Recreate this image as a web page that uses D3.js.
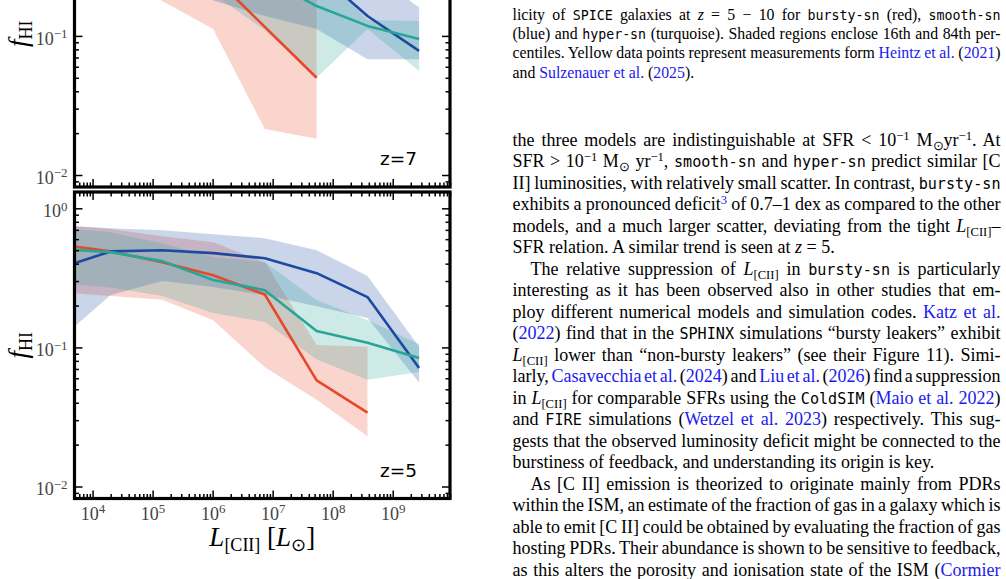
<!DOCTYPE html>
<html>
<head>
<meta charset="utf-8">
<script src="https://cdn.jsdelivr.net/npm/d3@7"></script>
<style>
body { margin: 0; background: #fff; width: 1006px; height: 579px; overflow: hidden; position: relative; }
svg { position: absolute; left: 0; top: 0; }
.ln { position: absolute; white-space: nowrap; font-family: "Liberation Serif", "Times New Roman", serif; color: #000; line-height: 20px; }
.tt { font-family: "DejaVu Sans Mono", monospace; font-size: 0.84em; }
.lk { color: #1a1aee; }
.ln sup, .ln sub { font-size: 0.7em; line-height: 0; position: relative; vertical-align: baseline; }
.ln sup { top: -0.5em; }
.ln sub { top: 0.3em; }
</style>
</head>
<body>
<script>
// luminosity bin centres (L_sun)
var lumBins = [2.75e3, 2.0e4, 1.45e5, 1.02e6, 7.4e6, 5.4e7, 3.8e8, 2.75e9];

// z=7 panel
var z7BurstyMed = [0.62, 0.58, 0.45, 0.27, 0.116, 0.050];
var z7BurstyLo  = [0.32, 0.30, 0.178, 0.112, 0.0214, 0.0182];
var z7BurstyHi  = [0.90, 0.85, 0.75, 0.50, 0.30, 0.20];
var z7SmoothMed = [0.50, 0.55, 0.55, 0.50, 0.42, 0.29, 0.139, 0.078];
var z7SmoothLo  = [0.25, 0.30, 0.30, 0.18, 0.139, 0.112, 0.068, 0.068];
var z7SmoothHi  = [0.80, 0.85, 0.85, 0.80, 0.70, 0.55, 0.30, 0.16];
var z7HyperMed  = [0.55, 0.55, 0.50, 0.40, 0.26, 0.164, 0.118, 0.095];
var z7HyperLo   = [0.30, 0.30, 0.28, 0.20, 0.11, 0.050, 0.112, 0.056];
var z7HyperHi   = [0.80, 0.80, 0.75, 0.65, 0.45, 0.30, 0.13, 0.128];

// z=5 panel
var z5BurstyMed = [0.55, 0.49, 0.41, 0.33, 0.24, 0.058, 0.034];
var z5BurstyLo  = [0.25, 0.234, 0.22, 0.157, 0.072, 0.042, 0.023];
var z5BurstyHi  = [0.76, 0.71, 0.63, 0.57, 0.41, 0.104, 0.101];
var z5SmoothMed = [0.37, 0.49, 0.50, 0.476, 0.438, 0.342, 0.230, 0.071];
var z5SmoothLo  = [0.113, 0.238, 0.30, 0.272, 0.238, 0.198, 0.163, 0.056];
var z5SmoothHi  = [0.755, 0.72, 0.695, 0.651, 0.61, 0.50, 0.326, 0.101];
var z5HyperMed  = [0.51, 0.484, 0.417, 0.305, 0.258, 0.131, 0.108, 0.084];
var z5HyperLo   = [0.29, 0.27, 0.234, 0.177, 0.152, 0.082, 0.0585, 0.0667];
var z5HyperHi   = [0.725, 0.673, 0.561, 0.446, 0.41, 0.219, 0.157, 0.106];

var xTicks = [1e4, 1e5, 1e6, 1e7, 1e8, 1e9];
var xTickExp = ["4", "5", "6", "7", "8", "9"];
var yTicks = [1e-2, 1e-1, 1e0];
var yTickExp = ["\u22122", "\u22121", "0"];

var colBursty = "#e8482a", colSmooth = "#1b4aa0", colHyper = "#27a597";

var xL = 74.5, xR = 450;
var xDomain = [5e3, 9e9], yDomain = [0.0082, 1.31];

var svg = d3.select("body").append("svg").attr("width", 470).attr("height", 579);
var x = d3.scaleLog().domain(xDomain).range([xL, xR]);

var panels = [
    {name: "z7", label: "z=7", top: -119.5, bottom: 187, xlabels: false,
     series: [
        {color: colBursty, med: z7BurstyMed, lo: z7BurstyLo, hi: z7BurstyHi},
        {color: colSmooth, med: z7SmoothMed, lo: z7SmoothLo, hi: z7SmoothHi},
        {color: colHyper,  med: z7HyperMed,  lo: z7HyperLo,  hi: z7HyperHi}]},
    {name: "z5", label: "z=5", top: 192, bottom: 498.5, xlabels: true,
     series: [
        {color: colBursty, med: z5BurstyMed, lo: z5BurstyLo, hi: z5BurstyHi},
        {color: colSmooth, med: z5SmoothMed, lo: z5SmoothLo, hi: z5SmoothHi},
        {color: colHyper,  med: z5HyperMed,  lo: z5HyperLo,  hi: z5HyperHi}]}
];

function powLabel(sel, exps, ticks) {
    sel.each(function(d) {
        var t = d3.select(this).text("");
        t.append("tspan").text("10");
        t.append("tspan").attr("dy", "-0.48em").attr("font-size", "0.72em").text(exps[ticks.indexOf(d)]);
    });
}

panels.forEach(function(p) {
    var y = d3.scaleLog().domain(yDomain).range([p.bottom, p.top]);
    var g = svg.append("g").attr("class", p.name);

    svg.append("clipPath").attr("id", "clip-" + p.name)
        .append("rect").attr("x", xL).attr("y", p.top)
        .attr("width", xR - xL).attr("height", p.bottom - p.top);

    var plot = g.append("g").attr("clip-path", "url(#clip-" + p.name + ")");

    var rows = p.series.map(function(s) {
        return s.med.map(function(m, i) {
            return {x: lumBins[i], m: m, lo: s.lo[i], hi: s.hi[i]};
        });
    });

    var area = d3.area()
        .x(function(d) { return x(d.x); })
        .y0(function(d) { return y(d.lo); })
        .y1(function(d) { return y(d.hi); });
    var line = d3.line()
        .x(function(d) { return x(d.x); })
        .y(function(d) { return y(d.m); });

    p.series.forEach(function(s, k) {
        plot.append("path").datum(rows[k])
            .attr("d", area)
            .attr("fill", s.color)
            .attr("fill-opacity", 0.23)
            .attr("stroke", "none");
    });
    p.series.forEach(function(s, k) {
        plot.append("path").datum(rows[k])
            .attr("d", line)
            .attr("fill", "none")
            .attr("stroke", s.color)
            .attr("stroke-width", 2.6)
            .attr("stroke-linejoin", "round");
    });

    var xMinor = x.ticks().filter(function(v) { return xTicks.indexOf(v) < 0; });
    var yMinor = y.ticks().filter(function(v) { return yTicks.indexOf(v) < 0; });

    function styleAxis(a) {
        a.select(".domain").remove();
        a.selectAll("line").attr("stroke", "#000").attr("stroke-width", 1.5);
    }
    function noText(a) {
        a.selectAll(".tick text").remove();
    }

    // bottom
    var gb = g.append("g").attr("transform", "translate(0," + p.bottom + ")")
        .call(d3.axisBottom(x).tickValues(xTicks).tickSizeInner(-8).tickSizeOuter(0).tickPadding(6))
        .call(styleAxis);
    g.append("g").attr("transform", "translate(0," + p.bottom + ")")
        .call(d3.axisBottom(x).tickValues(xMinor).tickSizeInner(-4.5).tickSizeOuter(0))
        .call(styleAxis).call(noText);
    if (p.xlabels) {
        gb.selectAll(".tick text")
            .attr("font-family", "'Liberation Serif', serif").attr("font-size", 18)
            .attr("fill", "#444").attr("dy", null).attr("y", 21)
            .call(powLabel, xTickExp, xTicks);
    } else {
        gb.call(noText);
    }
    // top
    g.append("g").attr("transform", "translate(0," + p.top + ")")
        .call(d3.axisTop(x).tickValues(xTicks).tickSizeInner(-8).tickSizeOuter(0))
        .call(styleAxis).call(noText);
    g.append("g").attr("transform", "translate(0," + p.top + ")")
        .call(d3.axisTop(x).tickValues(xMinor).tickSizeInner(-4.5).tickSizeOuter(0))
        .call(styleAxis).call(noText);
    // left
    var gl = g.append("g").attr("transform", "translate(" + xL + ",0)")
        .call(d3.axisLeft(y).tickValues(yTicks).tickSizeInner(-8).tickSizeOuter(0).tickPadding(7))
        .call(styleAxis);
    g.append("g").attr("transform", "translate(" + xL + ",0)")
        .call(d3.axisLeft(y).tickValues(yMinor).tickSizeInner(-4.5).tickSizeOuter(0))
        .call(styleAxis).call(noText);
    // labels that fall above the page are not drawn
    gl.selectAll(".tick").filter(function(d) { return y(d) < 0; }).select("text").remove();
    gl.selectAll(".tick text")
        .attr("font-family", "'Liberation Serif', serif").attr("font-size", 18)
        .attr("fill", "#444").attr("dy", "0.45em")
        .call(powLabel, yTickExp, yTicks);
    // right
    g.append("g").attr("transform", "translate(" + xR + ",0)")
        .call(d3.axisRight(y).tickValues(yTicks).tickSizeInner(-8).tickSizeOuter(0))
        .call(styleAxis).call(noText);
    g.append("g").attr("transform", "translate(" + xR + ",0)")
        .call(d3.axisRight(y).tickValues(yMinor).tickSizeInner(-4.5).tickSizeOuter(0))
        .call(styleAxis).call(noText);

    // frame
    g.append("rect").attr("x", xL).attr("y", p.top)
        .attr("width", xR - xL).attr("height", p.bottom - p.top)
        .attr("fill", "none").attr("stroke", "#000").attr("stroke-width", 3.2);

    g.append("text").attr("x", 417).attr("y", p.bottom - 22)
        .attr("text-anchor", "end")
        .attr("font-family", "'DejaVu Sans', sans-serif").attr("font-size", 18.5)
        .text(p.label);

    // y label
    var yl = g.append("text")
        .attr("transform", "translate(27," + ((p.top + p.bottom) / 2) + ") rotate(-90)")
        .attr("text-anchor", "middle")
        .attr("font-family", "'Liberation Serif', serif").attr("font-size", 27);
    yl.append("tspan").attr("font-style", "italic").text("f");
    yl.append("tspan").attr("font-size", 18).attr("dy", 5).text("HI");
});

// x label
var xl = svg.append("text").attr("x", (xL + xR) / 2).attr("y", 546)
    .attr("text-anchor", "middle")
    .attr("font-family", "'Liberation Serif', serif").attr("font-size", 27);
xl.append("tspan").attr("font-style", "italic").text("L");
xl.append("tspan").attr("font-size", 18).attr("dy", 5).text("[CII]");
xl.append("tspan").attr("dy", -5).text(" [");
xl.append("tspan").attr("font-style", "italic").text("L");
xl.append("tspan").attr("font-size", 18).attr("dy", 5).text("\u2299");
xl.append("tspan").attr("dy", -5).text("]");

// ---- right column text ----
var textLeft = 512.5, textRight = 1000.5, indent = 18;

var captionLines = [
    'licity of <span class="tt">SPICE</span> galaxies at <i>z</i> = 5 \u2212 10 for <span class="tt">bursty-sn</span> (red), <span class="tt">smooth-sn</span>',
    '(blue) and <span class="tt">hyper-sn</span> (turquoise). Shaded regions enclose 16th and 84th per-',
    'centiles. Yellow data points represent measurements form <span class="lk">Heintz et al.</span> (<span class="lk">2021</span>)',
    'and <span class="lk">Sulzenauer et al.</span> (<span class="lk">2025</span>).'
];
var captionLast = [false, false, false, true];

var L = '<i>L</i><sub>[CII]</sub>';
var bodyLines = [
    'the three models are indistinguishable at SFR &lt; 10<sup>\u22121</sup> M<sub>\u2299</sub>yr<sup>\u22121</sup>. At',
    'SFR &gt; 10<sup>\u22121</sup> M<sub>\u2299</sub> yr<sup>\u22121</sup>, <span class="tt">smooth-sn</span> and <span class="tt">hyper-sn</span> predict similar [C',
    'II] luminosities, with relatively small scatter. In contrast, <span class="tt">bursty-sn</span>',
    'exhibits a pronounced deficit<sup class="lk">3</sup> of 0.7\u20131 dex as compared to the other',
    'models, and a much larger scatter, deviating from the tight ' + L + '\u2013',
    'SFR relation. A similar trend is seen at <i>z</i> = 5.',
    'The relative suppression of ' + L + ' in <span class="tt">bursty-sn</span> is particularly',
    'interesting as it has been observed also in other studies that em-',
    'ploy different numerical models and simulation codes. <span class="lk">Katz et al.</span>',
    '(<span class="lk">2022</span>) find that in the <span class="tt">SPHINX</span> simulations \u201cbursty leakers\u201d exhibit',
    L + ' lower than \u201cnon-bursty leakers\u201d (see their Figure 11). Simi-',
    'larly, <span class="lk">Casavecchia et al.</span> (<span class="lk">2024</span>) and <span class="lk">Liu et al.</span> (<span class="lk">2026</span>) find a suppression',
    'in ' + L + ' for comparable SFRs using the <span class="tt">ColdSIM</span> (<span class="lk">Maio et al. 2022</span>)',
    'and <span class="tt">FIRE</span> simulations (<span class="lk">Wetzel et al. 2023</span>) respectively. This sug-',
    'gests that the observed luminosity deficit might be connected to the',
    'burstiness of feedback, and understanding its origin is key.',
    'As [C II] emission is theorized to originate mainly from PDRs',
    'within the ISM, an estimate of the fraction of gas in a galaxy which is',
    'able to emit [C II] could be obtained by evaluating the fraction of gas',
    'hosting PDRs. Their abundance is shown to be sensitive to feedback,',
    'as this alters the porosity and ionisation state of the ISM (<span class="lk">Cormier</span>'
];
var bodyLast = [false,false,false,false,false,true, false,false,false,false,false,false,false,false,false,true, false,false,false,false,false];
var bodyIndent = [false,false,false,false,false,false, true,false,false,false,false,false,false,false,false,false, true,false,false,false,false];

function writeLines(lines, lastFlags, indentFlags, size, firstBase, step) {
    lines.forEach(function(h, i) {
        var left = textLeft + (indentFlags && indentFlags[i] ? indent : 0);
        var base = firstBase + i * step;
        // baseline offset inside a 20px line box for Liberation Serif
        var top = base - ((20 - 1.107 * size) / 2 + 0.891 * size);
        var div = d3.select("body").append("div").attr("class", "ln")
            .style("left", left + "px").style("top", top + "px")
            .style("font-size", size + "px")
            .html(h);
        if (!lastFlags[i]) {
            var node = div.node();
            var natural = node.getBoundingClientRect().width;
            var spaces = (node.textContent.match(/ /g) || []).length;
            if (spaces > 0) {
                div.style("word-spacing", ((textRight - left - natural) / spaces) + "px");
            }
        }
    });
}

writeLines(captionLines, captionLast, null, 15.8, 20, 19.3);
writeLines(bodyLines, bodyLast, bodyIndent, 18, 146, 21.5);
</script>
</body>
</html>
